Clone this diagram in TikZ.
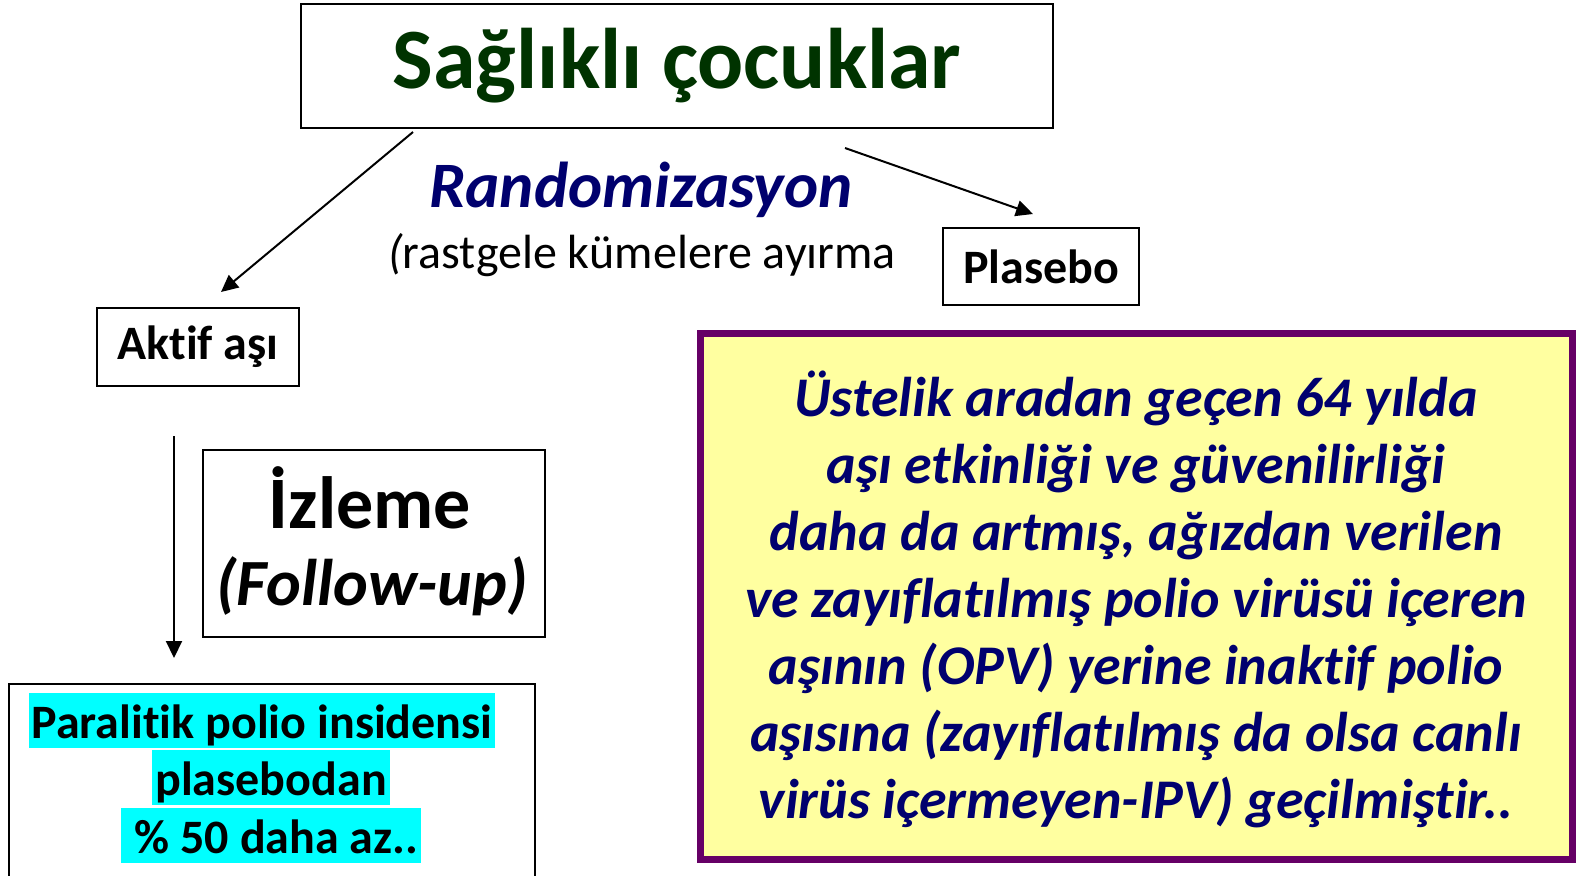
\documentclass[tikz,border=0pt]{standalone}
\usepackage{fontspec}
\setmainfont{Carlito}[RawFeature=-liga]
\usetikzlibrary{arrows.meta}
\definecolor{dgreen}{RGB}{0,51,0}
\definecolor{navyc}{RGB}{0,0,110}
\definecolor{purp}{RGB}{102,0,102}
\definecolor{lyellow}{RGB}{255,255,160}
\definecolor{hcyan}{RGB}{0,255,255}
\begin{document}
\begin{tikzpicture}[x=0.5pt,y=-0.5pt,
  box/.style={draw=black,line width=1pt,inner sep=0pt,align=center},
  arr/.style={line width=1pt,-{Triangle[length=8.5pt,width=8pt]}},
  hl/.style={fill=hcyan,inner xsep=1.5pt,inner ysep=0pt,text height=22.5pt,text depth=5pt,font=\fontsize{24}{28}\selectfont\bfseries}]
\useasboundingbox (0,0) rectangle (1583,875);
\fill[white] (0,0) rectangle (1583,875);
% boxes
\node[box,minimum width=376pt,minimum height=62pt,text=dgreen,font=\fontsize{43}{50}\selectfont\bfseries] (top) at (677,66) {Sağlıklı çocuklar};
\node[box,minimum width=98pt,minimum height=38.5pt,font=\fontsize{24}{28}\selectfont\bfseries] (plasebo) at (1041,266.5) {Plasebo};
\node[box,minimum width=101pt,minimum height=39pt,font=\fontsize{24}{28}\selectfont\bfseries] (aktif) at (198,347) {Aktif aşı};
\node[box,minimum width=171pt,minimum height=93.5pt] (izleme) at (374,543.5) {};
\node[font=\fontsize{37}{44}\selectfont\bfseries,inner sep=0pt,anchor=base] (izt) at (370,528) {İzleme};
\node[font=\fontsize{33}{40}\selectfont\bfseries\itshape,inner sep=0pt,anchor=base] (fol) at (372,605) {(Follow-up)};
\node[box,minimum width=263pt,minimum height=108pt] (sonuc) at (272,792) {};
% texts
\node[text=navyc,font=\fontsize{32.4}{38}\selectfont\bfseries\itshape,inner sep=0pt,anchor=base] (rand) at (641,207) {Randomizasyon};
\node[font=\fontsize{24}{28}\selectfont,inner sep=0pt,anchor=base] (rast) at (642,268) {\textit{(}rastgele kümelere ayırma};
% highlighted lines
\node[hl] (l1) at (262,720.5) {Paralitik polio insidensi};
\node[hl] (l2) at (271,777.5) {plasebodan};
\node[hl] (l3) at (271,835.5) {\ \% 50 daha az..};
% yellow box
\node[draw=purp,line width=3.5pt,fill=lyellow,minimum width=436pt,minimum height=263pt,inner sep=0pt] (note) at (1136.5,596.5) {};
\node[text=navyc,align=center,inner sep=0pt,font=\fontsize{28}{33.5}\selectfont\bfseries\itshape] (notetext) at (1136,599)
  {Üstelik aradan geçen 64 yılda\\
   aşı etkinliği ve güvenilirliği\\
   daha da artmış, ağızdan verilen\\
   ve zayıflatılmış polio virüsü içeren\\
   aşının (OPV) yerine inaktif polio\\
   aşısına (zayıflatılmış da olsa canlı\\
   virüs içermeyen-IPV) geçilmiştir..};
% arrows
\coordinate (a1s) at (413,132);
\coordinate (a1e) at (221,292);
\coordinate (a2s) at (845,148);
\coordinate (a2e) at (1033,214);
\coordinate (a3s) at (174,436);
\coordinate (a3e) at (174,658);
\draw[arr] (a1s) -- (a1e);
\draw[arr] (a2s) -- (a2e);
\draw[arr] (a3s) -- (a3e);
\end{tikzpicture}
\end{document}
